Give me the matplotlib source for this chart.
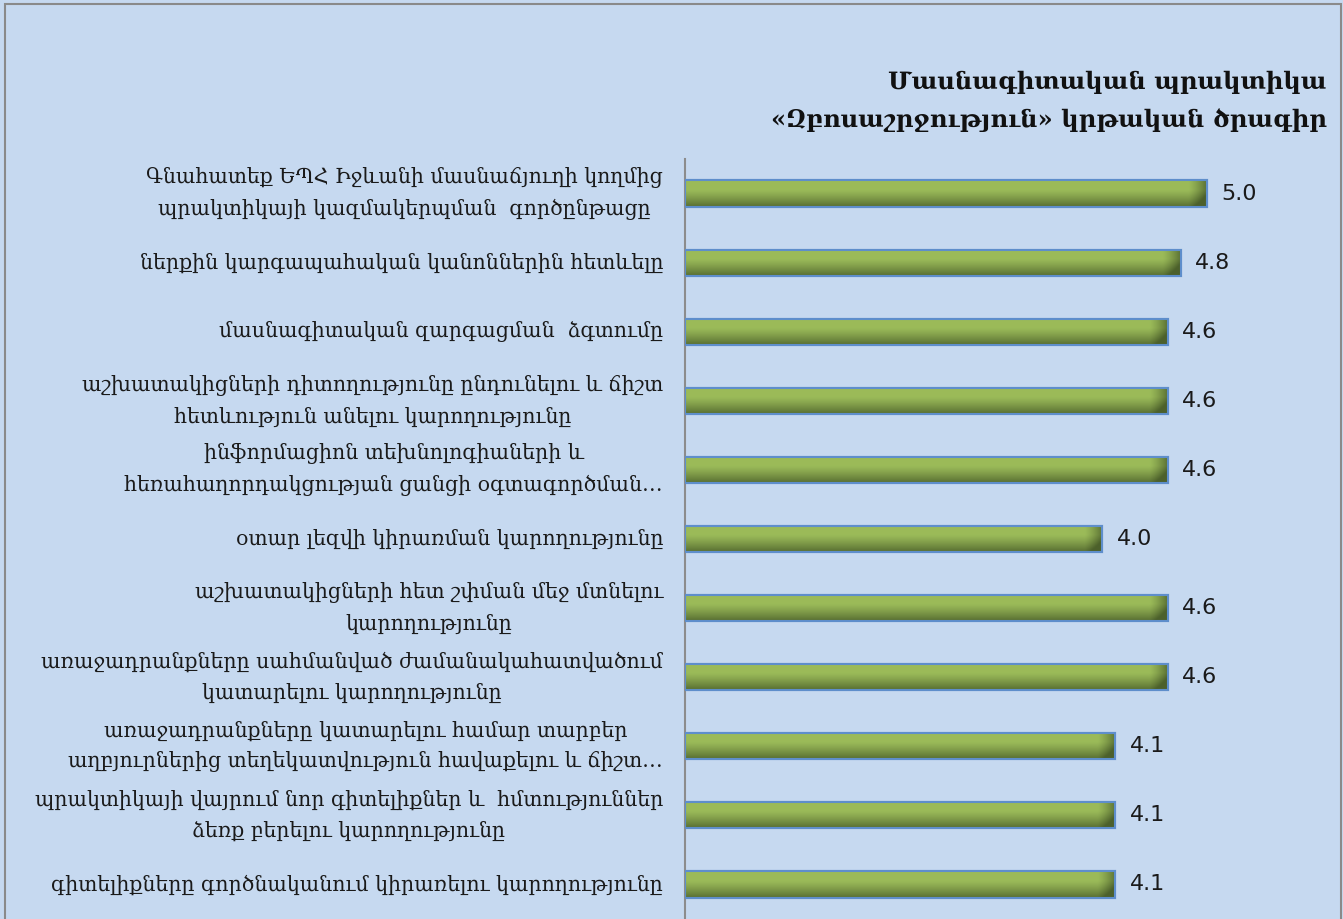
import numpy as np
import matplotlib
matplotlib.use('Agg')
import matplotlib.pyplot as plt
from matplotlib.patches import Rectangle

plt.rcParams['font.family'] = ['DejaVu Serif', 'DejaVu Sans']

# data (top to bottom as in the picture)
labels = [
    'Գնահատեք ԵՊՀ Իջևանի մասնաճյուղի կողմից\nպրակտիկայի կազմակերպման  գործընթացը',
    'ներքին կարգապահական կանոններին հետևելը',
    'մասնագիտական զարգացման  ձգտումը',
    'աշխատակիցների դիտողությունը ընդունելու և ճիշտ\nհետևություն անելու կարողությունը',
    'ինֆորմացիոն տեխնոլոգիաների և\nհեռահաղորդակցության ցանցի օգտագործման…',
    'օտար լեզվի կիրառման կարողությունը',
    'աշխատակիցների հետ շփման մեջ մտնելու\nկարողությունը',
    'առաջադրանքները սահմանված ժամանակահատվածում\nկատարելու կարողությունը',
    'առաջադրանքները կատարելու համար տարբեր\nաղբյուրներից տեղեկատվություն հավաքելու և ճիշտ…',
    'պրակտիկայի վայրում նոր գիտելիքներ և  հմտություններ\nձեռք բերելու կարողությունը',
    'գիտելիքները գործնականում կիրառելու կարողությունը',
]
scores = [5.0, 4.75, 4.625, 4.625, 4.625, 4.0, 4.625, 4.625, 4.125, 4.125, 4.125]
title = 'Մասնագիտական պրակտիկա\n«Զբոսաշրջություն» կրթական ծրագիր'

bg = '#C6D9F0'
W, H = 1343, 919
fig = plt.figure(figsize=(W / 100, H / 100), dpi=100, facecolor=bg)
ax = fig.add_axes([685 / W, 0.0, (1311 - 685) / W, 1 - 159 / H])
ax.set_facecolor(bg)

n = len(scores)
ypos = np.arange(n)[::-1]
bars = ax.barh(ypos, scores, height=0.38, color='#9BBB59',
               edgecolor='#5E8ECB', linewidth=1.5, zorder=2)

# shaded fill: darker to the bottom and to the right end, like the original bevel
green = np.array([0.608, 0.733, 0.349])
dark = np.array([0.30, 0.38, 0.17])
for b in bars:
    x0, y0 = b.get_x(), b.get_y()
    bw, bh = b.get_width(), b.get_height()
    ncol, nrow = 400, 40
    v = np.linspace(0, 1, nrow)[:, None]           # 0 top .. 1 bottom
    vshade = np.clip((v - 0.35) / 0.65, 0, 1) ** 1.2
    bar_px = bw * (1311 - 685) / 6.0
    u = np.linspace(0, 1, ncol)[None, :]
    hshade = np.clip((u - (1 - 18 / bar_px)) / (18 / bar_px), 0, 1) ** 1.3
    s = np.clip(vshade * 0.85 + hshade * 0.8, 0, 1)
    img = green[None, None, :] * (1 - s[..., None]) + dark[None, None, :] * s[..., None]
    im = ax.imshow(img, extent=[x0, x0 + bw, y0, y0 + bh], origin='upper',
                   aspect='auto', zorder=2.5, interpolation='bilinear')
    im.set_clip_path(b)
    ax.add_patch(Rectangle((x0, y0), bw, bh, fill=False, edgecolor='#5E8ECB',
                           linewidth=1.5, zorder=3))

for y, v in zip(ypos, scores):
    ax.text(v + 0.14, y, '%.1f' % v, va='center', ha='left', fontsize=16,
            family=['DejaVu Sans'], color='#1a1a1a')

ax.set_xlim(0, 6)
ax.set_ylim(-0.5, n - 0.5)
ax.set_xticks([])
ax.set_yticks([])
for side in ['top', 'right', 'bottom']:
    ax.spines[side].set_visible(False)
ax.spines['left'].set_color('#8C8C8C')
ax.spines['left'].set_linewidth(1.5)

for y, lab in zip(ypos, labels):
    ax.text(-0.21, y, lab, ha='right', va='center', multialignment='center',
            fontsize=14.8, linespacing=1.65, color='#1a1a1a',
            transform=ax.transData, clip_on=False)

fig.text(1327 / W, 1 - 101 / H, title, ha='right', va='center',
         multialignment='right', fontsize=17.5, fontweight='semibold',
         linespacing=1.75, color='#111111')

# outer chart border
fig.patches.append(Rectangle((5 / W, -0.01), (1341 - 5) / W, 1 - 4 / H + 0.01,
                             transform=fig.transFigure, fill=False,
                             edgecolor='#8A8A8A', linewidth=1.5))

fig.savefig('out.png', dpi=100, facecolor=bg)
